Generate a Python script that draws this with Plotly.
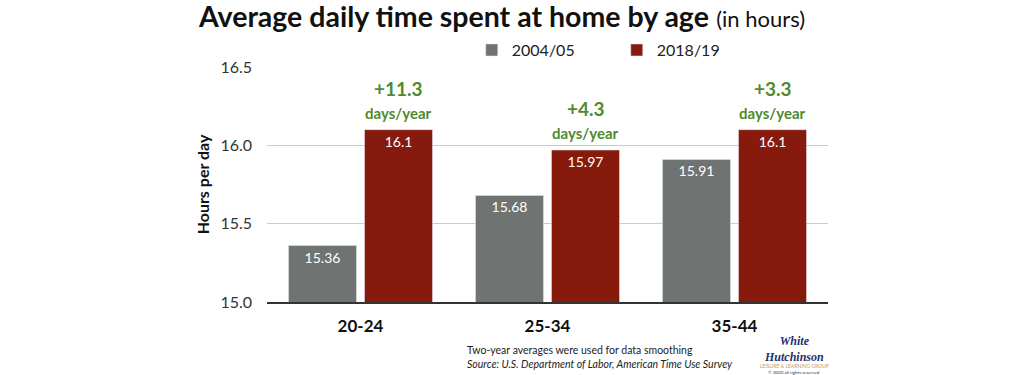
import plotly.graph_objects as go

categories = ["20-24", "25-34", "35-44"]
series_names = ["2004/05", "2018/19"]
values_2004 = [15.36, 15.68, 15.91]
values_2018 = [16.1, 15.97, 16.1]
value_labels_2004 = ["15.36", "15.68", "15.91"]
value_labels_2018 = ["16.1", "15.97", "16.1"]
increase_labels = ["+11.3", "+4.3", "+3.3"]
y_ticks = [15.0, 15.5, 16.0, 16.5]
y_tick_labels = ["15.0", "15.5", "16.0", "16.5"]

GRAY = "#6f7371"
RED = "#861a0c"
GREEN = "#4f8a2d"
FONT = "Lato"

fig = go.Figure()
fig.add_trace(go.Bar(
    x=categories, y=values_2004, name=series_names[0], marker_color=GRAY,
    text=value_labels_2004, textposition="inside", insidetextanchor="end",
    textfont=dict(color="white", size=14, family=FONT),
))
fig.add_trace(go.Bar(
    x=categories, y=values_2018, name=series_names[1], marker_color=RED,
    text=value_labels_2018, textposition="inside", insidetextanchor="end",
    textfont=dict(color="white", size=14, family=FONT),
))

for cat, val, lab in zip(categories, values_2018, increase_labels):
    fig.add_annotation(x=cat, y=val, xref="x", yref="y", xshift=38, yshift=28,
                       yanchor="bottom", showarrow=False,
                       text=f"<b>{lab}</b>", font=dict(color=GREEN, size=19, family=FONT))
    fig.add_annotation(x=cat, y=val, xref="x", yref="y", xshift=38, yshift=6,
                       yanchor="bottom", showarrow=False,
                       text="<b>days/year</b>", font=dict(color=GREEN, size=15, family=FONT))

fig.add_annotation(x=-0.127, y=1.0, xref="paper", yref="paper", yshift=32,
                   xanchor="left", yanchor="bottom", showarrow=False,
                   text="<b>Average daily time spent at home by age</b> <span style='font-size:22px'>(in hours)</span>",
                   font=dict(color="#111111", size=28.5, family=FONT))

fig.add_annotation(x=0.353, y=0, xref="paper", yref="paper", yshift=-40, xanchor="left",
                   yanchor="top", showarrow=False, align="left",
                   text="Two-year averages were used for data smoothing<br><i>Source: U.S. Department of Labor, American Time Use Survey</i>",
                   font=dict(color="#222222", size=10.5, family=FONT))

fig.add_annotation(x=0.94, y=0, xref="paper", yref="paper", yshift=-30, xanchor="center",
                   yanchor="top", showarrow=False, align="center",
                   text="<b><i>White<br>Hutchinson</i></b>",
                   font=dict(color="#1f2f6e", size=12, family="Liberation Serif"))
fig.add_annotation(x=0.94, y=0, xref="paper", yref="paper", yshift=-59, xanchor="center",
                   yanchor="top", showarrow=False, align="center",
                   text="LEISURE &amp; LEARNING GROUP",
                   font=dict(color="#c9965a", size=5, family=FONT))
fig.add_annotation(x=0.94, y=0, xref="paper", yref="paper", yshift=-66, xanchor="center",
                   yanchor="top", showarrow=False, align="center",
                   text="© 2020 all rights reserved",
                   font=dict(color="#1f2f6e", size=4.5, family=FONT))

fig.update_layout(
    width=1024, height=375,
    margin=dict(l=267, r=196, t=67, b=73),
    paper_bgcolor="white", plot_bgcolor="white",
    barmode="group", bargap=0.187, bargroupgap=0.105,
    font=dict(family=FONT, color="#222222"),
    legend=dict(orientation="h", x=0.365, y=1.072, xanchor="left", yanchor="middle",
                font=dict(size=16, family=FONT, color="#222222"), itemwidth=30,
                entrywidth=100, entrywidthmode="pixels", traceorder="normal"),
    uniformtext=dict(minsize=8, mode="show"),
)
fig.update_yaxes(range=[15.0, 16.5], tickvals=y_ticks, ticktext=y_tick_labels,
                 showgrid=True, gridcolor="#cccccc", gridwidth=1, zeroline=False,
                 tickfont=dict(size=16, color="#333333", family=FONT),
                 ticklabelstandoff=14,
                 title=dict(text="<b>Hours per day</b>", font=dict(size=16, color="#111111", family=FONT), standoff=6))
fig.update_xaxes(showline=True, linecolor="#333333", linewidth=1.5,
                 tickfont=dict(size=17, color="#111111", family=FONT),
                 tickvals=categories, ticktext=[f"<b>{c}</b>" for c in categories],
                 ticklabelstandoff=8)

fig.write_html("out.html", config={"displayModeBar": False},
               post_script="document.body.style.margin='0';")
